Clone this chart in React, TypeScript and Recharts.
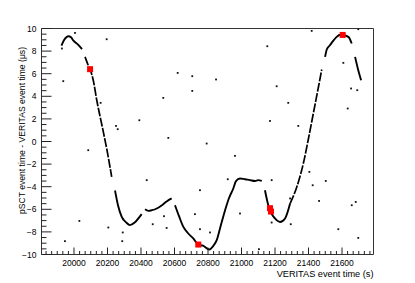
import { ComposedChart, Line, Scatter, XAxis, YAxis, ReferenceArea } from 'recharts';

const X_DOMAIN: [number, number] = [19806, 21788];
const Y_DOMAIN: [number, number] = [-10, 10];
const X_LABELS = [20000, 20200, 20400, 20600, 20800, 21000, 21200, 21400, 21600];
const Y_LABELS = [-10, -8, -6, -4, -2, 0, 2, 4, 6, 8, 10];
const X_MINOR = 200 / 6;
const Y_MINOR = 0.5;

// the dense "curve" of matched events, traced as separate pieces (gaps between them)
const SEG_A = [[19925, 8.48], [19940, 8.96], [19967, 9.32], [19982, 9.23], [19997, 8.92], [20024, 8.57], [20048, 8.17]];
const SEG_B = [[20066, 7.49], [20085, 6.75], [20096, 6.4], [20115, 5.42], [20136, 3.65], [20173, 1.0], [20197, -0.77], [20225, -3.13]];
const SEG_C = [[20245, -4.34], [20263, -5.66], [20285, -6.67], [20310, -7.14], [20334, -7.4], [20364, -7.14], [20404, -6.43]];
const SEG_D = [[20424, -6.0], [20444, -6.14], [20466, -6.08], [20494, -5.93], [20525, -5.64], [20555, -5.28], [20583, -5.04]];
const SEG_E = [
  [20603, -5.64], [20627, -6.61], [20653, -7.56], [20681, -8.12], [20712, -8.58], [20742, -9.12], [20770, -9.22],
  [20808, -9.56], [20830, -9.27], [20852, -8.73], [20872, -7.67], [20902, -6.08], [20925, -5.02], [20951, -4.16],
  [20967, -3.51], [20991, -3.27], [21021, -3.34], [21051, -3.42], [21081, -3.49], [21099, -3.42], [21121, -3.49],
];
const SEG_F1 = [[21140, -4.31], [21160, -5.64], [21176, -6.3], [21200, -6.81], [21230, -7.12], [21260, -6.81], [21290, -5.49]];
const SEG_F2 = [[21290, -5.49], [21330, -4.02], [21369, -1.95], [21399, 0.2], [21429, 2.5], [21459, 4.8], [21479, 6.37]];
const SEG_G = [[21499, 7.49], [21509, 8.14], [21528, 8.52], [21546, 8.88], [21568, 9.26], [21590, 9.45], [21604, 9.43], [21638, 9.26], [21658, 8.67]];
const SEG_H = [[21678, 7.49], [21697, 6.31], [21714, 5.42]];
const SEGMENTS = [SEG_A, SEG_C, SEG_D, SEG_E, SEG_F1, SEG_G, SEG_H];
const SPARSE_SEGMENTS = [SEG_B, SEG_F2];

// stray events off the curve
const OUTLIERS = [
  [20006, 9.61], [19928, 8.23], [19936, 5.34], [20195, 9.05], [20159, 3.42], [20251, 1.38], [20261, 1.09],
  [20085, -0.77], [20032, -7.03], [20205, -7.61], [19946, -8.82], [20291, -8.05], [20288, -8.82], [20390, 1.88],
  [20619, 6.07], [20706, 5.78], [20848, 5.49], [20706, 4.48], [20533, 3.86], [20563, 0.32], [20792, -0.18],
  [20961, -1.27], [20434, -3.42], [20918, -3.34], [20752, -4.31], [20294, -6.88], [20470, -7.32], [20537, -6.61],
  [20553, -7.65], [20722, -6.43], [20752, -7.76], [20812, -8.05], [20991, -6.37], [21170, 1.82], [21339, 1.38],
  [21180, -3.42], [21405, -2.69], [21425, -3.87], [21503, -3.49], [21290, -5.04], [21463, -5.26], [21682, -5.35],
  [21658, -5.64], [21180, -7.17], [21294, -7.32], [21578, -7.76], [21697, -8.53], [21419, 9.79], [21697, 9.94],
  [21154, 8.43], [21608, 6.96], [21210, 4.89], [21654, 4.69], [21691, 4.54], [21279, 3.42], [21634, 2.92],
  [21104, -9.53],
];

// highlighted events (red squares)
const MARKED = [[20096, 6.4], [20742, -9.12], [21170, -5.9], [21176, -6.2], [21604, 9.43]];

const toPts = (arr: number[][]) => arr.map(([x, y]) => ({ x, y }));

const FONT = '"Liberation Sans", Arial, Helvetica, sans-serif';

const xTicks: number[] = [];
for (let k = Math.ceil((X_DOMAIN[0] - X_LABELS[0]) / X_MINOR); X_LABELS[0] + k * X_MINOR <= X_DOMAIN[1]; k++) xTicks.push(X_LABELS[0] + k * X_MINOR);
const yTicks: number[] = [];
for (let v = Y_LABELS[0]; v <= Y_LABELS[Y_LABELS.length - 1] + 1e-9; v += Y_MINOR) yTicks.push(v);

function XTick({ x, y, payload }: any) {
  const v = payload.value as number;
  const major = X_LABELS.some((l) => Math.abs(l - v) < 1e-6);
  return (
    <g>
      <line x1={x} x2={x} y1={y} y2={y - (major ? 7 : 3.5)} stroke="#222" />
      {major && (
        <text x={x} y={y + 11} textAnchor="middle" fontSize={8.5} fontFamily={FONT} fill="#000">
          {Math.round(v)}
        </text>
      )}
    </g>
  );
}

function YTick({ x, y, payload }: any) {
  const v = payload.value as number;
  const major = Y_LABELS.some((l) => Math.abs(l - v) < 1e-6);
  return (
    <g>
      <line x1={x} x2={x + (major ? 10 : 5)} y1={y} y2={y} stroke="#222" />
      {major && (
        <text x={x - 5} y={y + 3} textAnchor="end" fontSize={8.5} fontFamily={FONT} fill="#000">
          {v < 0 ? `\u2212${Math.abs(v)}` : v}
        </text>
      )}
    </g>
  );
}

const dot = ({ cx, cy }: any) => <rect x={cx - 0.9} y={cy - 0.9} width={1.8} height={1.8} fill="#111" />;
const square = ({ cx, cy }: any) => <rect x={cx - 3} y={cy - 3} width={6} height={6} fill="#ff0000" />;

export default function App() {
  return (
    <div style={{ position: 'absolute', left: 0, top: 0, background: '#fff' }}>
      <ComposedChart width={415} height={283} margin={{ top: 28.5, right: 41.5, bottom: 0, left: 0 }}>
        <XAxis
          dataKey="x"
          type="number"
          domain={X_DOMAIN}
          allowDataOverflow
          ticks={xTicks}
          interval={0}
          tickSize={0}
          tickMargin={0}
          tickLine={false}
          axisLine={false}
          height={28.5}
          tick={<XTick />}
        />
        <YAxis
          dataKey="y"
          type="number"
          domain={Y_DOMAIN}
          allowDataOverflow
          ticks={yTicks}
          interval={0}
          tickSize={0}
          tickMargin={0}
          tickLine={false}
          axisLine={false}
          width={41.5}
          tick={<YTick />}
        />
        <ReferenceArea x1={X_DOMAIN[0]} x2={X_DOMAIN[1]} y1={-10} y2={10} fill="none" stroke="#333" strokeOpacity={1} fillOpacity={0} />
        {SEGMENTS.map((seg, i) => (
          <Line
            key={`s${i}`}
            data={toPts(seg)}
            dataKey="y"
            type="monotone"
            stroke="#000"
            strokeWidth={1.9}
            dot={false}
            activeDot={false}
            isAnimationActive={false}
          />
        ))}
        {SPARSE_SEGMENTS.map((seg, i) => (
          <Line
            key={`d${i}`}
            data={toPts(seg)}
            dataKey="y"
            type="monotone"
            stroke="#000"
            strokeWidth={1.7}
            strokeDasharray="9 1.5"
            dot={false}
            activeDot={false}
            isAnimationActive={false}
          />
        ))}
        <Scatter data={toPts(OUTLIERS)} dataKey="y" shape={dot} isAnimationActive={false} />
        <Scatter data={toPts(MARKED)} dataKey="y" shape={square} isAnimationActive={false} />
        <text x={373.5} y={277} textAnchor="end" fontSize={9.2} fontFamily={FONT} fill="#000">
          VERITAS event time (s)
        </text>
        <text
          x={21.5}
          y={130.5}
          transform="rotate(-90 21.5 130.5)"
          textAnchor="middle"
          dominantBaseline="central"
          fontSize={8.6}
          fontFamily={FONT}
          fill="#000"
        >
          pSCT event time - VERITAS event time (μs)
        </text>
      </ComposedChart>
    </div>
  );
}
